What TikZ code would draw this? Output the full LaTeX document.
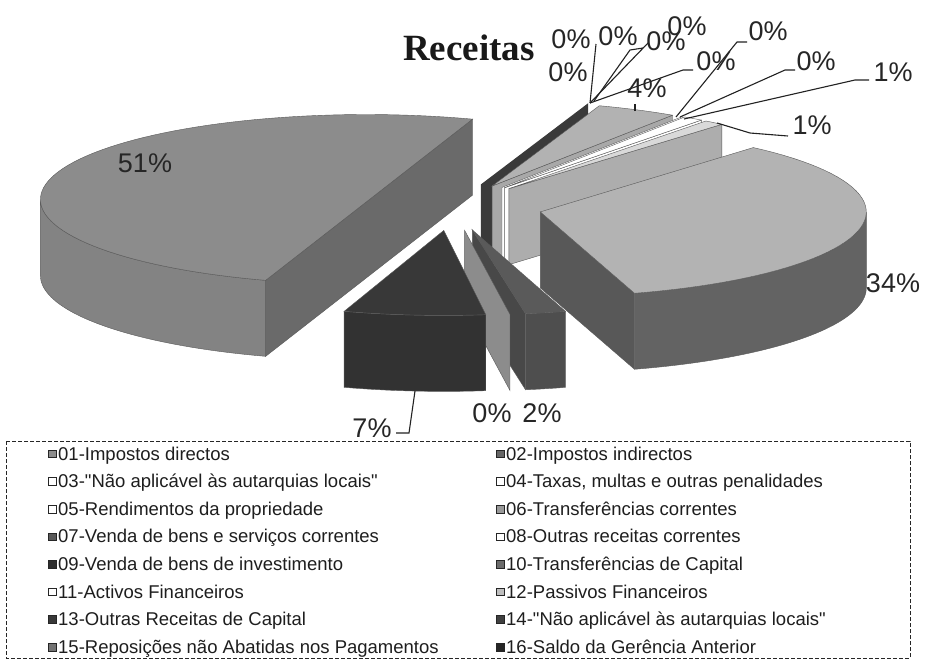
\documentclass[tikz,border=0pt]{standalone}
\usepackage{fontspec}
\setmainfont{Liberation Sans}[Ligatures=TeXOff]
\newfontfamily\titlefont{Liberation Serif}
\definecolor{gfiftyTop}{HTML}{8C8C8C}
\definecolor{gfiftySide}{HTML}{838383}
\definecolor{gfiftyCut}{HTML}{6A6A6A}
\definecolor{gthirtyTop}{HTML}{B3B3B3}
\definecolor{gthirtySide}{HTML}{636363}
\definecolor{gthirtyCut}{HTML}{585858}
\definecolor{gsevenTop}{HTML}{383838}
\definecolor{gsevenSide}{HTML}{323232}
\definecolor{gtwoTop}{HTML}{5A5A5A}
\definecolor{gtwoSide}{HTML}{4E4E4E}
\definecolor{gtwoCut}{HTML}{484848}
\definecolor{gzero}{HTML}{8C8C8C}
\definecolor{gdark}{HTML}{3A3A3A}
\definecolor{bookTop}{HTML}{B2B2B2}
\definecolor{bookCut}{HTML}{A8A8A8}
\definecolor{bookFront}{HTML}{ADADAD}
\definecolor{pctcol}{HTML}{262626}
\definecolor{legtext}{HTML}{1E1E1E}
\definecolor{leadcol}{HTML}{222222}
\def\pra{326}\def\prb{85}\def\phh{76}
% top face of a slice: centre x, centre y, angle 1, angle 2, options
\newcommand{\PieTop}[5]{\fill[#5] (#1,#2) -- plot[domain=#3:#4,samples=50,variable=\t] ({#1+\pra*cos(\t)},{#2+\prb*sin(\t)}) -- cycle;}
% top face bounded by a chord (for a slice of about half the pie)
\newcommand{\PieTopChord}[5]{\fill[#5] plot[domain=#3:#4,samples=80,variable=\t] ({#1+\pra*cos(\t)},{#2+\prb*sin(\t)}) -- cycle;}
% outer rim side between two angles
\newcommand{\PieSide}[5]{\fill[#5] plot[domain=#3:#4,samples=50,variable=\t] ({#1+\pra*cos(\t)},{#2+\prb*sin(\t)}) -- plot[domain=#4:#3,samples=50,variable=\t] ({#1+\pra*cos(\t)},{#2+\phh+\prb*sin(\t)}) -- cycle;}
% radial cut face at one angle
\newcommand{\PieCut}[4]{\fill[#4] (#1,#2) -- ({#1+\pra*cos(#3)},{#2+\prb*sin(#3)}) -- ({#1+\pra*cos(#3)},{#2+\phh+\prb*sin(#3)}) -- (#1,{#2+\phh}) -- cycle;}
% two cut faces that lie in one plane (rim to rim)
\newcommand{\PieDiam}[5]{\fill[#5] ({#1+\pra*cos(#3)},{#2+\prb*sin(#3)}) -- ({#1+\pra*cos(#4)},{#2+\prb*sin(#4)}) -- ({#1+\pra*cos(#4)},{#2+\phh+\prb*sin(#4)}) -- ({#1+\pra*cos(#3)},{#2+\phh+\prb*sin(#3)}) -- cycle;}
\begin{document}
\begin{tikzpicture}[x=1pt,y=-1pt,
  pct/.style={font=\fontsize{27}{30}\selectfont, text=pctcol, inner sep=0pt},
  leg/.style={font=\fontsize{18.5}{20}\selectfont, text=legtext, anchor=base west, inner sep=0pt},
  mk/.style={draw=black!85, line width=0.8pt, minimum size=7.5pt, inner sep=0pt},
  lead/.style={draw=leadcol, line width=1.1pt},
  edge/.style={draw=black!65, line width=0.4pt}]
\useasboundingbox (0,0) rectangle (928,664);
\fill[white] (0,0) rectangle (928,664);

% ---------- back group of small slices ----------
\PieCut{481.4}{184.8}{-71}{fill=gdark, draw=gdark, line width=1.2pt}
\PieCut{492.1}{186.0}{-56.4}{fill=bookCut, edge}
\PieTop{492.1}{186.0}{-70.8}{-56.4}{fill=bookTop, edge}
\PieCut{502.0}{187.4}{-56.4}{fill=white, edge}
\PieCut{504.3}{187.8}{-52.8}{fill=white, edge}
\PieTop{504.3}{187.8}{-56.4}{-52.8}{fill=white, edge}
\PieCut{508.8}{188.7}{-49.2}{fill=bookFront, edge}
\PieTop{508.8}{188.7}{-52.8}{-49.2}{fill=white!85!black, edge}

% ---------- 51% slice ----------
\PieDiam{366.4}{199.5}{108}{289}{fill=gfiftyCut, edge}
\PieSide{366.4}{199.5}{108}{180}{fill=gfiftySide, edge}
\PieTopChord{366.4}{199.5}{108}{289}{fill=gfiftyTop, edge}

% ---------- 34% slice ----------
\PieSide{540.3}{211.9}{0}{73.2}{fill=gthirtySide, edge}
\PieCut{540.3}{211.9}{73.2}{fill=gthirtyCut, edge}
\PieTop{540.3}{211.9}{-49.2}{73.2}{fill=gthirtyTop, edge}

% ---------- 2% and 0% slices ----------
\PieCut{472.3}{229.9}{80.6}{fill=gtwoCut, edge}
\PieSide{472.3}{229.9}{73.4}{80.6}{fill=gtwoSide, edge}
\PieTop{472.3}{229.9}{73.4}{80.6}{fill=gtwoTop, edge}
\PieCut{464.6}{230.3}{82}{fill=gzero, edge}

% ---------- 7% slice ----------
\PieSide{443.8}{230.4}{82.6}{107.8}{fill=gsevenSide, edge}
\PieTop{443.8}{230.4}{82.6}{107.8}{fill=gsevenTop, edge}

% ---------- title ----------
\node[font=\titlefont\bfseries\fontsize{37}{42}\selectfont, text=black!90, anchor=base west, inner sep=0pt] (title) at (403,60) {Receitas};

% ---------- leader line end points ----------
\coordinate (apex) at (590,103);
\coordinate (apexb) at (594,101);
\coordinate (rimA) at (676,117);
\coordinate (rimB) at (680,117);
\coordinate (rimC) at (684,119);
\coordinate (rimD) at (717,123);
\coordinate (fourTop) at (635,111);
\coordinate (sevenBot) at (415,391);
\coordinate (kA) at (596,44);
\coordinate (kB) at (648,43);
\coordinate (kC1) at (630,50);
\coordinate (kC2) at (643,48);
\coordinate (kD1) at (683,70);
\coordinate (kD2) at (693,70);
\coordinate (kE1) at (737,42);
\coordinate (kE2) at (747,42);
\coordinate (kF1) at (785,70);
\coordinate (kF2) at (795,70);
\coordinate (kG1) at (855,80);
\coordinate (kG2) at (869,80);
\coordinate (kH1) at (750,133);
\coordinate (kH2) at (788,136);
\coordinate (kI) at (635,104);
\coordinate (kJ1) at (409,433);
\coordinate (kJ2) at (396,433);

\draw[lead] (apex) -- (kA);
\draw[lead] (apex) -- (kB);
\draw[lead] (apexb) -- (kC1) -- (kC2);
\draw[lead] (apex) -- (kD1) -- (kD2);
\draw[lead] (rimA) -- (kE1) -- (kE2);
\draw[lead] (rimB) -- (kF1) -- (kF2);
\draw[lead] (rimC) -- (kG1) -- (kG2);
\draw[lead] (rimD) -- (kH1) -- (kH2);
\draw[lead] (fourTop) -- (kI);
\draw[lead] (sevenBot) -- (kJ1) -- (kJ2);

% ---------- percentage labels ----------
\node[pct] (z1) at (571,39) {0\%};
\node[pct] (z2) at (618,36) {0\%};
\node[pct] (z3) at (666,41) {0\%};
\node[pct] (z4) at (687,26) {0\%};
\node[pct] (z5) at (768,31) {0\%};
\node[pct] (z6) at (568,72) {0\%};
\node[pct] (f4) at (647,88) {4\%};
\node[pct] (z7) at (716,61) {0\%};
\node[pct] (z8) at (816,61) {0\%};
\node[pct] (o1) at (893,72) {1\%};
\node[pct] (o2) at (812,125) {1\%};
\node[pct] (p51) at (145,163) {51\%};
\node[pct] (p34) at (893,283) {34\%};
\node[pct] (p7) at (372,428) {7\%};
\node[pct] (p0) at (492,413) {0\%};
\node[pct] (p2) at (542,413) {2\%};

% ---------- legend ----------
\draw[draw=black!85, line width=1pt, dash pattern=on 4pt off 2pt] (6,441) rectangle (910,658);

\node[mk, fill=black!45] (m01) at (52.5,454) {};
\node[leg] (t01) at (58,460) {01-Impostos directos};
\node[mk, fill=white] (m03) at (52.5,481.6) {};
\node[leg] (t03) at (58,487.6) {03-"Não aplicável às autarquias locais"};
\node[mk, fill=white] (m05) at (52.5,509.2) {};
\node[leg] (t05) at (58,515.2) {05-Rendimentos da propriedade};
\node[mk, fill=black!65] (m07) at (52.5,536.8) {};
\node[leg] (t07) at (58,542.8) {07-Venda de bens e serviços correntes};
\node[mk, fill=black!82] (m09) at (52.5,564.4) {};
\node[leg] (t09) at (58,570.4) {09-Venda de bens de investimento};
\node[mk, fill=white] (m11) at (52.5,592) {};
\node[leg] (t11) at (58,598) {11-Activos Financeiros};
\node[mk, fill=black!78] (m13) at (52.5,619.6) {};
\node[leg] (t13) at (58,625.6) {13-Outras Receitas de Capital};
\node[mk, fill=black!55] (m15) at (52.5,647.2) {};
\node[leg] (t15) at (58,653.2) {15-Reposições não Abatidas nos Pagamentos};

\node[mk, fill=black!60] (m02) at (500.5,454) {};
\node[leg] (t02) at (506,460) {02-Impostos indirectos};
\node[mk, fill=white] (m04) at (500.5,481.6) {};
\node[leg] (t04) at (506,487.6) {04-Taxas, multas e outras penalidades};
\node[mk, fill=black!40] (m06) at (500.5,509.2) {};
\node[leg] (t06) at (506,515.2) {06-Transferências correntes};
\node[mk, fill=white] (m08) at (500.5,536.8) {};
\node[leg] (t08) at (506,542.8) {08-Outras receitas correntes};
\node[mk, fill=black!58] (m10) at (500.5,564.4) {};
\node[leg] (t10) at (506,570.4) {10-Transferências de Capital};
\node[mk, fill=black!25] (m12) at (500.5,592) {};
\node[leg] (t12) at (506,598) {12-Passivos Financeiros};
\node[mk, fill=black!75] (m14) at (500.5,619.6) {};
\node[leg] (t14) at (506,625.6) {14-"Não aplicável às autarquias locais"};
\node[mk, fill=black!85] (m16) at (500.5,647.2) {};
\node[leg] (t16) at (506,653.2) {16-Saldo da Gerência Anterior};
\end{tikzpicture}
\end{document}
